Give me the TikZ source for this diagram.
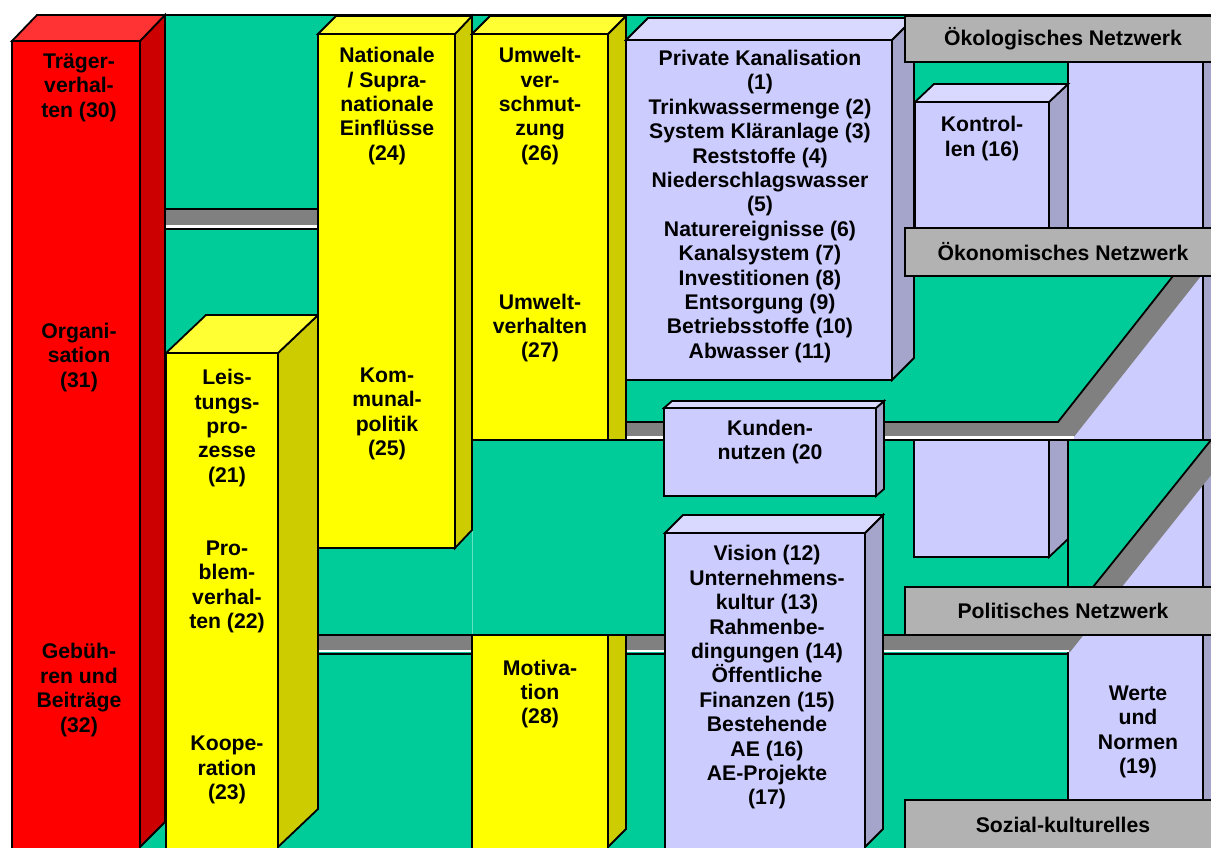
\documentclass[tikz,border=0pt]{standalone}
\usepackage{fontspec}
\setmainfont{Liberation Sans}

\definecolor{gruen}{HTML}{00CC99}
\definecolor{rotvorn}{HTML}{FF0000}
\definecolor{rotseite}{HTML}{CC0000}
\definecolor{rotdach}{HTML}{FF3333}
\definecolor{gelbvorn}{HTML}{FFFF00}
\definecolor{gelbseite}{HTML}{CCCC00}
\definecolor{gelbdach}{HTML}{FFFF33}
\definecolor{lilavorn}{HTML}{CCCCFF}
\definecolor{lilaseite}{HTML}{A5A5CC}
\definecolor{liladach}{HTML}{D9D9FF}
\definecolor{balken}{HTML}{808080}
\definecolor{schild}{HTML}{B2B2B2}

\begin{document}
\begin{tikzpicture}[x=1pt,y=-1pt,
    flaeche/.style={draw=black,line width=1.8pt,line join=miter,fill=#1},
    kante/.style={line width=1.8pt},
    txt/.style={font=\fontsize{21.2}{24.4}\selectfont\bfseries,align=center,inner sep=0pt},
    netz/.style={draw=black,line width=1.8pt,fill=schild,inner sep=0pt,
      minimum width=316pt,font=\fontsize{21.2}{24.4}\selectfont\bfseries}]
  \fill[white] (0,0) rectangle (1211,847);
  \clip (0,0) rectangle (1211,847);

  % back wall
  \draw[flaeche=gruen] (140,15) rectangle (1240,870);

  % tall box on the right
  \draw[flaeche=lilaseite] (1203,62) rectangle (1240,870);
  \draw[flaeche=lilavorn] (1068,62) rectangle (1203,870);

  % Kontrollen
  \draw[flaeche=lilavorn] (915,102) rectangle (1049,250);
  \draw[flaeche=lilaseite] (1049,102) -- (1068,84) -- (1068,250) -- (1049,250) -- cycle;
  \draw[flaeche=liladach] (915,102) -- (934,84) -- (1068,84) -- (1049,102) -- cycle;

  % lower floor: grey band and green plane
  \fill[balken] (318,635) -- (1055,635) -- (1210,440) -- (1239,440) -- (1070,652) -- (318,652) -- cycle;
  \draw[white,line width=2.2pt] (318,651) -- (1069,651);
  \draw[kante] (318,654) -- (1068,654);
  \draw[kante] (318,635) -- (1055,635);
  \fill[gruen] (1069,440) -- (1211,440) -- (1093,587) -- (1069,587) -- cycle;
  \draw[kante] (1211,440) -- (1093,587);

  % box below the upper floor
  \draw[flaeche=lilavorn] (914,430) rectangle (1049,557);
  \draw[flaeche=lilaseite] (1049,430) -- (1068,430) -- (1068,539) -- (1049,557) -- cycle;

  % upper floor: grey band and green plane
  \fill[balken] (626,422) -- (1058,422) -- (1173,276) -- (1201,276) -- (1073,438) -- (626,438) -- cycle;
  \draw[white,line width=2.2pt] (626,437.5) -- (1074,437.5);
  \draw[kante] (626,440) -- (1211,440);
  \fill[gruen] (880,276) -- (1173,276) -- (1058,422) -- (880,422) -- cycle;
  \draw[kante] (1173,276) -- (1058,422) -- (626,422);

  % top bar
  \fill[balken] (165,209) rectangle (318,229);
  \draw[white,line width=2.2pt] (165,226.5) -- (318,226.5);
  \draw[kante] (165,229) -- (318,229);
  \draw[kante] (165,209) -- (318,209);
  \draw[gruen!60!white,line width=0.6pt] (472,441) -- (472,634);

  % red column
  \draw[flaeche=rotvorn] (12,41) rectangle (140,870);
  \draw[flaeche=rotseite] (140,41) -- (165,15) -- (165,822) -- (140,847) -- cycle;
  \draw[flaeche=rotdach] (12,41) -- (37,15) -- (165,15) -- (140,41) -- cycle;

  % yellow columns
  \draw[flaeche=gelbvorn] (166,353) rectangle (278,870);
  \draw[flaeche=gelbseite] (278,353) -- (318,315) -- (318,809) -- (278,847) -- cycle;
  \draw[flaeche=gelbdach] (166,353) -- (206,315) -- (318,315) -- (278,353) -- cycle;

  \draw[flaeche=gelbvorn] (318,34) rectangle (455,548);
  \draw[flaeche=gelbseite] (455,34) -- (472,16) -- (472,530) -- (455,548) -- cycle;
  \draw[flaeche=gelbdach] (318,34) -- (336,16) -- (472,16) -- (455,34) -- cycle;

  \draw[flaeche=gelbvorn] (472,34) rectangle (608,440);
  \draw[flaeche=gelbseite] (608,34) -- (626,16) -- (626,440) -- (608,440) -- cycle;
  \draw[flaeche=gelbdach] (472,34) -- (490,16) -- (626,16) -- (608,34) -- cycle;

  \draw[flaeche=gelbvorn] (472,635) rectangle (608,870);
  \draw[flaeche=gelbseite] (608,635) -- (626,635) -- (626,829) -- (608,847) -- cycle;

  % lilac boxes
  \draw[flaeche=lilavorn] (626,40) rectangle (892,380);
  \draw[flaeche=lilaseite] (892,40) -- (914,18) -- (914,358) -- (892,380) -- cycle;
  \draw[flaeche=liladach] (626,40) -- (648,18) -- (914,18) -- (892,40) -- cycle;

  \draw[flaeche=lilavorn] (664,408) rectangle (876,496);
  \draw[flaeche=lilaseite] (876,408) -- (884,401) -- (884,489) -- (876,496) -- cycle;
  \draw[flaeche=liladach] (664,408) -- (672,401) -- (884,401) -- (876,408) -- cycle;

  \draw[flaeche=lilavorn] (665,533) rectangle (865,870);
  \draw[flaeche=lilaseite] (865,533) -- (883,515) -- (883,829) -- (865,847) -- cycle;
  \draw[flaeche=liladach] (665,533) -- (683,515) -- (883,515) -- (865,533) -- cycle;

  % network labels
  \node[netz,minimum height=46pt] (oeko) at (1063,39) {Ökologisches Netzwerk};
  \node[netz,minimum height=48pt] (oekon) at (1063,252) {Ökonomisches Netzwerk};
  \node[netz,minimum height=48pt] (polit) at (1063,611) {Politisches Netzwerk};
  \node[netz,minimum height=50pt] (sozial) at (1063,825) {Sozial-kulturelles};

  % texts
  \node[txt] (t30) at (79,87.5) {Träger-\\verhal-\\ten (30)};
  \node[txt] (t31) at (79,357.5) {Organi-\\sation\\(31)};
  \node[txt] (t32) at (79,690) {Gebüh-\\ren und\\Beiträge\\(32)};
  \node[txt] (t21) at (227,428) {Leis-\\tungs-\\pro-\\zesse\\(21)};
  \node[txt] (t22) at (227,587) {Pro-\\blem-\\verhal-\\ten (22)};
  \node[txt] (t23) at (227,770) {Koope-\\ration\\(23)};
  \node[txt] (t24) at (387,106) {Nationale\\/ Supra-\\nationale\\Einflüsse\\(24)};
  \node[txt] (t25) at (387,414) {Kom-\\munal-\\politik\\(25)};
  \node[txt] (t26) at (540,106) {Umwelt-\\ver-\\schmut-\\zung\\(26)};
  \node[txt] (t27) at (540,328) {Umwelt-\\verhalten\\(27)};
  \node[txt] (t28) at (540,694) {Motiva-\\tion\\(28)};
  \node[txt] (t1) at (760,206.5) {Private Kanalisation\\(1)\\Trinkwassermenge (2)\\System Kläranlage (3)\\Reststoffe (4)\\Niederschlagswasser\\(5)\\Naturereignisse (6)\\Kanalsystem (7)\\Investitionen (8)\\Entsorgung (9)\\Betriebsstoffe (10)\\Abwasser (11)};
  \node[txt] (t20) at (770,442) {Kunden-\\nutzen (20};
  \node[txt] (t12) at (767,677.5) {Vision (12)\\Unternehmens-\\kultur (13)\\Rahmenbe-\\dingungen (14)\\Öffentliche\\Finanzen (15)\\Bestehende\\AE (16)\\AE-Projekte\\(17)};
  \node[txt] (t16) at (982,138.5) {Kontrol-\\len (16)};
  \node[txt] (t19) at (1138,732) {Werte\\und\\Normen\\(19)};
\end{tikzpicture}
\end{document}
